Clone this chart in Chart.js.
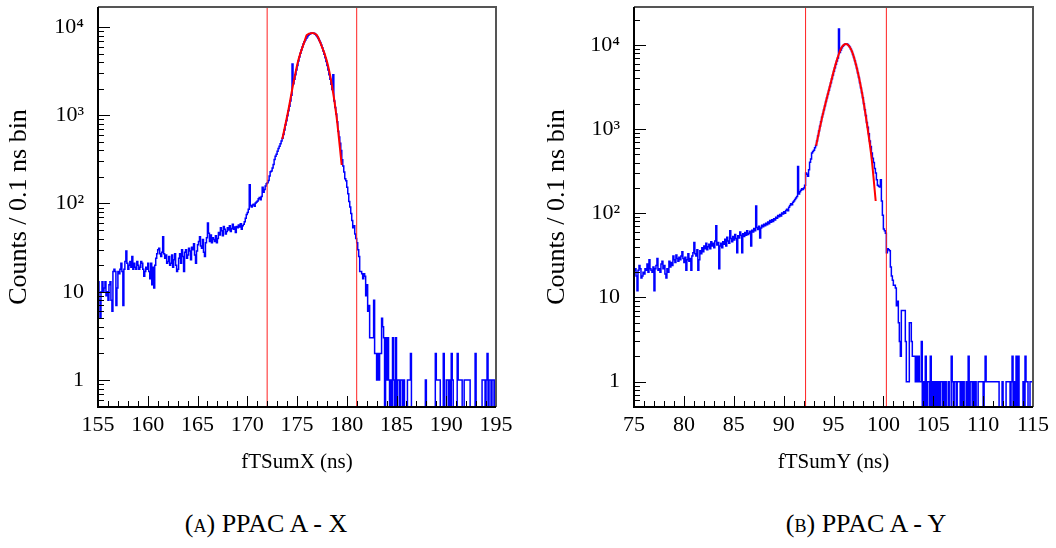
<!DOCTYPE html>
<html lang="en">
<head>
  <meta charset="UTF-8">
  <title>PPAC A timing sums</title>
  <style>
    body { margin: 0; background: #fff; }
    .panel { position: absolute; top: 0; width: 528px; height: 480px; }
    .caption {
      position: absolute; top: 509px; width: 400px; text-align: center;
      font-family: 'Liberation Serif', serif; font-size: 26px; color: #000;
    }
    .sc { font-variant: small-caps; }
  </style>
  <script src="https://cdn.jsdelivr.net/npm/chart.js@4.4.6/dist/chart.umd.min.js"></script>
</head>
<body>
<div class="panel" style="left:0"><canvas id="chartA" width="528" height="480"></canvas></div>
<div class="panel" style="left:528px"><canvas id="chartB" width="528" height="480"></canvas></div>
<div class="caption" style="left:66px">(<span class="sc">a</span>) PPAC A - X</div>
<div class="caption" style="left:666px">(<span class="sc">b</span>) PPAC A - Y</div>
<script>
// counts per 0.1 ns bin (bin lower edge = start + 0.1*i)
var startA = 155, endA = 195;
var countsA = [
  13, 8, 5, 10, 13, 10, 11, 13, 9, 10,
  8, 12, 13, 8, 6, 17, 18, 17, 7, 11,
  17, 16, 18, 21, 17, 7, 18, 22, 29, 21,
  18, 20, 22, 19, 25, 18, 21, 19, 18, 22,
  20, 18, 19, 22, 21, 18, 15, 17, 19, 18,
  21, 17, 14, 21, 12, 19, 11, 20, 24, 27,
  30, 31, 27, 25, 28, 42, 27, 24, 26, 21,
  22, 25, 20, 21, 26, 19, 23, 27, 20, 17,
  18, 24, 27, 21, 30, 25, 17, 28, 30, 24,
  26, 31, 29, 23, 32, 30, 35, 26, 21, 29,
  34, 37, 42, 33, 31, 39, 28, 25, 36, 41,
  60, 46, 37, 44, 36, 41, 39, 37, 43, 36,
  40, 47, 44, 53, 49, 43, 55, 51, 45, 48,
  53, 50, 56, 48, 52, 58, 51, 54, 47, 55,
  53, 57, 54, 59, 51, 56, 58, 62, 68, 75,
  79, 86, 163, 94, 91, 96, 98, 93, 101, 104,
  107, 113, 117, 110, 120, 153, 134, 144, 158, 167,
  172, 182, 205, 229, 234, 253, 277, 315, 343, 362,
  390, 420, 445, 475, 510, 550, 605, 680, 775, 865,
  985, 1125, 1265, 1450, 1680, 3800, 2280, 2560, 2880, 3250,
  3660, 4120, 4580, 5040, 5500, 5950, 6400, 6820, 7140, 7450,
  7770, 8050, 8250, 8410, 8530, 8570, 8550, 8460, 8280, 8000,
  7730, 7410, 7050, 6680, 6270, 5810, 5350, 4900, 4480, 4070,
  3660, 3250, 2880, 2560, 2240, 1960, 2880, 1450, 1220, 1030,
  845, 660, 565, 482, 398, 313, 266, 228, 191, 181,
  153, 129, 105, 91, 77, 64, 53, 56, 45, 40,
  36, 30, 25, 17, 17, 16, 14, 16, 15, 9,
  12, 6, 7, 3, 3, 3, 3, 8, 2, 2,
  1, 2, 1, 2, 2, 5, 4, 3, 0, 3,
  1, 3, 1, 0, 1, 0, 3, 1, 0, 3,
  0, 1, 1, 0, 1, 1, 0, 1, 0, 0,
  0, 1, 1, 1, 2, 0, 0, 0, 0, 0,
  0, 0, 0, 0, 0, 0, 0, 0, 0, 1,
  0, 0, 0, 0, 0, 0, 0, 0, 0, 2,
  1, 1, 1, 1, 0, 0, 0, 2, 0, 0,
  1, 1, 0, 1, 0, 2, 1, 0, 0, 0,
  0, 2, 1, 1, 1, 1, 0, 0, 1, 1,
  1, 1, 1, 1, 0, 0, 0, 0, 0, 2,
  0, 0, 0, 0, 0, 0, 1, 1, 1, 0,
  1, 2, 0, 1, 1, 0, 1, 1, 0, 1
];
var fitXA = [173.52, 174.13, 174.63, 175.13, 175.80, 175.97, 176.54, 177.0, 177.31, 177.98, 178.48, 178.98, 179.49];
var fitYA = [536, 1143, 2290, 4200, 7090, 8070, 8550, 8070, 6770, 4200, 2290, 955, 273];
var cutsA = [172.0, 181.0];

var startB = 75, endB = 115;
var countsB = [
  21, 22, 18, 12, 21, 24, 22, 17, 18, 20,
  19, 22, 21, 25, 20, 28, 22, 21, 20, 23,
  12, 22, 24, 29, 21, 22, 20, 25, 27, 22,
  24, 19, 17, 22, 20, 27, 23, 26, 24, 31,
  28, 26, 32, 29, 27, 30, 28, 31, 35, 29,
  26, 30, 21, 28, 33, 27, 29, 21, 31, 34,
  45, 33, 31, 37, 21, 28, 36, 33, 39, 35,
  41, 38, 44, 37, 40, 43, 38, 46, 41, 44,
  39, 47, 71, 42, 45, 22, 41, 44, 39, 46,
  43, 49, 41, 52, 47, 44, 62, 50, 46, 53,
  48, 56, 50, 34, 54, 51, 60, 55, 34, 57,
  53, 59, 55, 62, 56, 58, 61, 41, 63, 60,
  66, 62, 122, 68, 64, 70, 51, 67, 72, 69,
  74, 71, 76, 73, 79, 75, 82, 78, 84, 80,
  86, 83, 90, 87, 94, 91, 97, 93, 101, 98,
  104, 100, 108, 112, 107, 118, 124, 130, 126, 135,
  140, 146, 152, 158, 360, 170, 180, 188, 195, 192,
  200, 215, 300, 290, 275, 330, 405, 440, 520, 540,
  560, 600, 640, 720, 830, 950, 1080, 1220, 1380, 1520,
  1700, 1900, 2120, 2350, 2620, 2900, 3200, 3550, 3950, 4400,
  4850, 5350, 5900, 6450, 7000, 15500, 8100, 8700, 9250, 9650,
  9950, 10150, 10280, 10250, 10100, 9800, 9400, 8900, 8350, 7700,
  7100, 6500, 5850, 5250, 4650, 4100, 3550, 3100, 2700, 2350,
  2000, 1700, 1450, 1200, 1050, 880, 720, 620, 520, 450,
  400, 340, 300, 250, 215, 210, 205, 250, 140, 95,
  65, 62, 58, 34, 38, 37, 36, 23, 18, 16,
  14, 14, 13, 8, 9, 5, 3, 2, 7, 7,
  7, 7, 3, 1, 1, 1, 5, 5, 3, 2,
  2, 2, 1, 2, 1, 2, 1, 1, 3, 0,
  1, 0, 2, 0, 1, 1, 0, 2, 0, 1,
  0, 1, 0, 1, 0, 1, 0, 1, 1, 0,
  1, 0, 1, 0, 0, 1, 0, 0, 2, 1,
  0, 1, 1, 0, 1, 1, 1, 0, 1, 0,
  1, 0, 0, 1, 0, 2, 0, 1, 1, 0,
  1, 0, 1, 0, 0, 1, 1, 1, 1, 1,
  0, 1, 2, 1, 1, 1, 1, 1, 1, 1,
  1, 1, 1, 1, 1, 1, 0, 0, 0, 1,
  0, 0, 0, 1, 1, 1, 1, 0, 1, 2,
  0, 1, 0, 2, 0, 2, 0, 0, 0, 0,
  1, 0, 2, 1, 1, 0, 0, 1, 1, 1
];
var fitXB = [93.25, 93.98, 94.65, 95.32, 95.82, 96.25, 96.82, 97.32, 97.82, 98.33, 98.83, 99.23];
var fitYB = [634, 1590, 3280, 6500, 9380, 10280, 8560, 5420, 2860, 1200, 440, 140];
var cutsB = [92.2, 100.3];

var FONT = 'Liberation Serif';
var sup = { 2: '\u00b2', 3: '\u00b3', 4: '\u2074', 5: '\u2075' };

// ROOT style: ticks pointing into the frame, grey top/right border
var rootFrame = {
  id: 'rootFrame',
  afterDraw: function(chart) {
    var ctx = chart.ctx, a = chart.chartArea;
    var xs = chart.scales.x, ys = chart.scales.y;
    ctx.save();
    ctx.strokeStyle = '#000';
    ctx.lineWidth = 1;
    ctx.beginPath();
    xs.ticks.forEach(function(t) {
      var px = Math.round(xs.getPixelForValue(t.value)) + 0.5;
      var len = (Math.round(t.value) % 5 === 0) ? 11 : 6;
      ctx.moveTo(px, a.bottom);
      ctx.lineTo(px, a.bottom - len);
    });
    ys.ticks.forEach(function(t) {
      var e = Math.floor(Math.log10(t.value) + 1e-9);
      var m = t.value / Math.pow(10, e);
      if (Math.abs(m - Math.round(m)) > 1e-6) return;
      var py = Math.round(ys.getPixelForValue(t.value)) + 0.5;
      var len = (Math.round(m) === 1) ? 12 : 6;
      ctx.moveTo(a.left, py);
      ctx.lineTo(a.left + len, py);
    });
    ctx.stroke();
    ctx.lineWidth = 2;
    ctx.strokeStyle = '#555';
    ctx.beginPath();
    ctx.moveTo(a.left, a.top);
    ctx.lineTo(a.right, a.top);
    ctx.lineTo(a.right, a.bottom);
    ctx.stroke();
    ctx.strokeStyle = '#000';
    ctx.beginPath();
    ctx.moveTo(a.left, a.top);
    ctx.lineTo(a.left, a.bottom);
    ctx.lineTo(a.right, a.bottom);
    ctx.stroke();
    ctx.restore();
  }
};

function histPoints(counts, start, end, yMin) {
  var pts = [{ x: start, y: yMin }];
  for (var i = 0; i < counts.length; i++) {
    pts.push({ x: start + i * 0.1, y: counts[i] > 0 ? counts[i] : yMin });
  }
  var last = counts[counts.length - 1];
  pts.push({ x: end, y: last > 0 ? last : yMin });
  pts.push({ x: end, y: yMin });
  return pts;
}

function makePanel(id, p) {
  var datasets = [
    {
      label: 'hist',
      data: histPoints(p.counts, p.start, p.end, p.yMin),
      stepped: true,
      borderColor: '#0000ff',
      borderWidth: 1.5,
      pointRadius: 0,
      order: 3
    },
    {
      label: 'fit',
      data: p.fitX.map(function(x, i) { return { x: x, y: p.fitY[i] }; }),
      borderColor: '#ff0000',
      borderWidth: 2,
      cubicInterpolationMode: 'monotone',
      pointRadius: 0,
      order: 2
    }
  ];
  p.cuts.forEach(function(c) {
    datasets.push({
      label: 'cut',
      data: [{ x: c, y: p.yMin }, { x: c, y: p.yMax }],
      borderColor: '#ff2020',
      borderWidth: 1,
      pointRadius: 0,
      order: 1
    });
  });

  return new Chart(document.getElementById(id), {
    type: 'line',
    data: { datasets: datasets },
    plugins: [rootFrame],
    options: {
      responsive: false,
      animation: false,
      devicePixelRatio: 1,
      layout: { padding: { left: 0, right: p.padRight, top: 7, bottom: 0 } },
      plugins: { legend: { display: false }, tooltip: { enabled: false } },
      scales: {
        x: {
          type: 'linear',
          min: p.start,
          max: p.end,
          grid: { display: false, drawTicks: false },
          border: { display: false },
          ticks: {
            stepSize: 1,
            maxTicksLimit: 100,
            autoSkip: false,
            maxRotation: 0,
            padding: 5,
            color: '#000',
            font: { family: FONT, size: 22 },
            callback: function(v) { return (Math.round(v) % 5 === 0) ? String(Math.round(v)) : ''; }
          },
          title: {
            display: true,
            text: p.xTitle,
            color: '#000',
            padding: { top: 0, bottom: 5 },
            font: { family: FONT, size: 21 }
          },
          afterFit: function(s) { s.height = 73; s.paddingLeft = 0; s.paddingRight = 0; }
        },
        y: {
          type: 'logarithmic',
          min: p.yMin,
          max: p.yMax,
          bounds: 'data',
          grid: { display: false, drawTicks: false },
          border: { display: false },
          ticks: {
            autoSkip: false,
            padding: 14,
            color: '#000',
            font: { family: FONT, size: 22 },
            callback: function(v) {
              var e = Math.log10(v);
              if (Math.abs(e - Math.round(e)) > 1e-6) return '';
              e = Math.round(e);
              if (e === 0) return '1';
              if (e === 1) return '10';
              return '10' + sup[e];
            }
          },
          title: {
            display: true,
            text: 'Counts / 0.1 ns bin',
            color: '#000',
            padding: { top: p.titlePad, bottom: 0 },
            font: { family: FONT, size: 26 }
          },
          // keep the frame exactly where the layout padding puts it
          afterFit: function(s) { s.width = p.axisWidth; s.paddingTop = 0; s.paddingBottom = 0; }
        }
      }
    }
  });
}

makePanel('chartA', {
  counts: countsA, start: startA, end: endA,
  fitX: fitXA, fitY: fitYA, cuts: cutsA,
  yMin: 0.494, yMax: 16850,
  xTitle: 'fTSumX (ns)', padRight: 32, axisWidth: 98, titlePad: 4
});
makePanel('chartB', {
  counts: countsB, start: startB, end: endB,
  fitX: fitXB, fitY: fitYB, cuts: cutsB,
  yMin: 0.5, yMax: 28200,
  xTitle: 'fTSumY (ns)', padRight: 23, axisWidth: 106, titlePad: 14
});
</script>
</body>
</html>
